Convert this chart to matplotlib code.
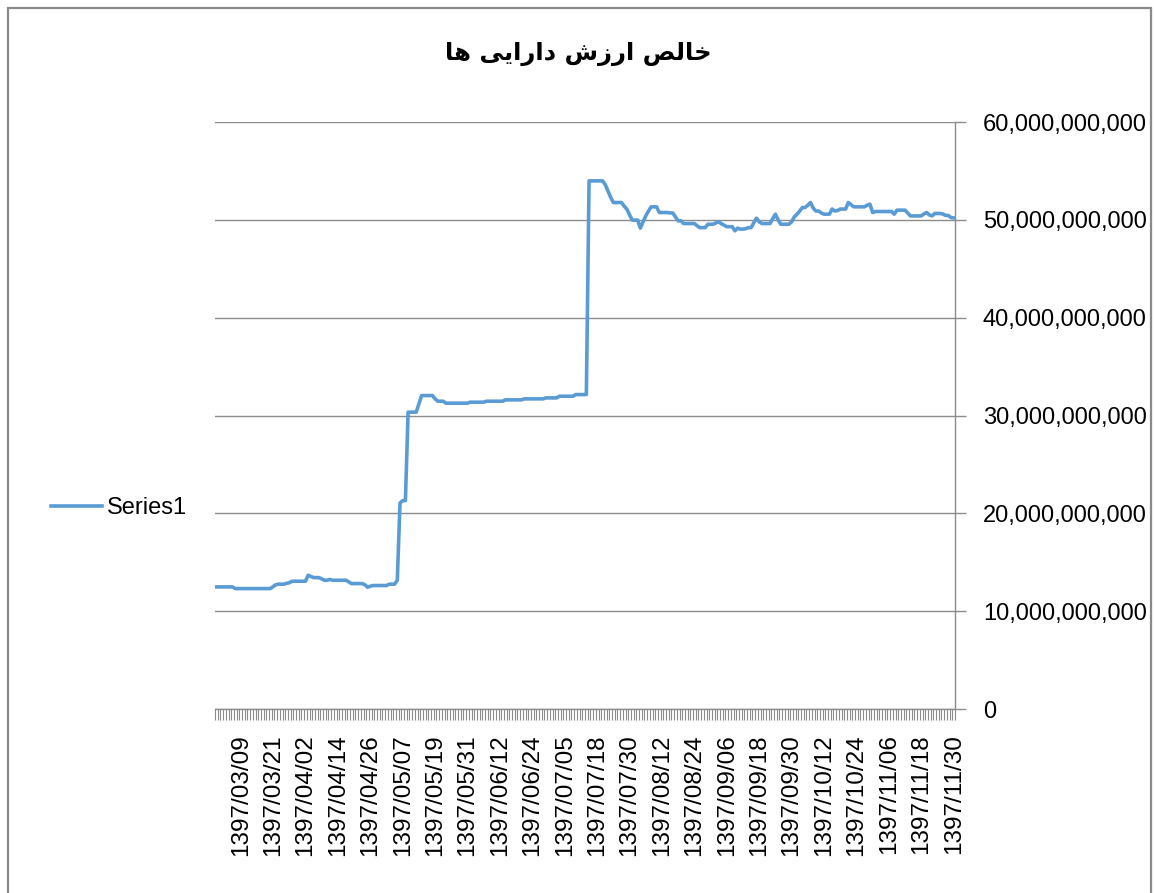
import numpy as np
import matplotlib
matplotlib.use('Agg')
import matplotlib.pyplot as plt
from matplotlib.ticker import FuncFormatter, FixedLocator
from matplotlib.patches import Rectangle

# net asset value, in billions of rials, one point per trading day
nav_billions = [
    12.48, 12.48, 12.48, 12.48, 12.48, 12.48, 12.48, 12.31, 12.31, 12.31,
    12.31, 12.31, 12.31, 12.31, 12.31, 12.31, 12.31, 12.31, 12.31, 12.31,
    12.31, 12.5, 12.7, 12.76, 12.76, 12.76, 12.85, 12.9, 13.06, 13.06,
    13.06, 13.06, 13.06, 13.06, 13.67, 13.55, 13.43, 13.43, 13.43, 13.3,
    13.16, 13.16, 13.25, 13.16, 13.16, 13.16, 13.16, 13.16, 13.16, 13.0,
    12.82, 12.82, 12.82, 12.82, 12.82, 12.7, 12.45, 12.55, 12.62, 12.62,
    12.62, 12.62, 12.62, 12.62, 12.76, 12.76, 12.76, 13.16, 21.05, 21.3,
    21.3, 30.34, 30.34, 30.34, 30.34, 31.2, 32.04, 32.04, 32.04, 32.04,
    32.04, 31.7, 31.46, 31.46, 31.46, 31.26, 31.26, 31.26, 31.26, 31.26,
    31.26, 31.26, 31.26, 31.26, 31.36, 31.36, 31.36, 31.36, 31.36, 31.36,
    31.46, 31.46, 31.46, 31.46, 31.46, 31.46, 31.46, 31.6, 31.6, 31.6,
    31.6, 31.6, 31.6, 31.6, 31.7, 31.7, 31.7, 31.7, 31.7, 31.7,
    31.7, 31.7, 31.8, 31.8, 31.8, 31.8, 31.8, 31.97, 31.97, 31.97,
    31.97, 31.97, 31.97, 32.14, 32.14, 32.14, 32.14, 32.14, 53.98, 53.98,
    53.98, 53.98, 53.98, 53.98, 53.6, 52.96, 52.3, 51.77, 51.77, 51.77,
    51.77, 51.4, 51.09, 50.5, 49.97, 49.97, 49.97, 49.15, 49.8, 50.4,
    50.9, 51.33, 51.33, 51.33, 50.75, 50.75, 50.75, 50.75, 50.7, 50.7,
    50.3, 49.9, 49.9, 49.62, 49.62, 49.62, 49.62, 49.62, 49.4, 49.2,
    49.2, 49.2, 49.55, 49.55, 49.55, 49.7, 49.8, 49.6, 49.45, 49.3,
    49.3, 49.3, 48.88, 49.15, 49.05, 49.05, 49.1, 49.2, 49.2, 49.7,
    50.17, 49.8, 49.62, 49.62, 49.62, 49.62, 50.1, 50.58, 50.0, 49.55,
    49.55, 49.55, 49.55, 49.8, 50.3, 50.58, 50.9, 51.26, 51.26, 51.5,
    51.77, 51.2, 50.9, 50.9, 50.7, 50.58, 50.58, 50.58, 51.1, 50.9,
    50.95, 51.1, 51.1, 51.1, 51.77, 51.55, 51.33, 51.33, 51.33, 51.33,
    51.33, 51.5, 51.6, 50.75, 50.85, 50.85, 50.85, 50.85, 50.85, 50.85,
    50.85, 50.58, 50.99, 50.99, 50.99, 50.99, 50.7, 50.4, 50.4, 50.4,
    50.4, 50.4, 50.6, 50.75, 50.5, 50.4, 50.65, 50.65, 50.65, 50.6,
    50.45, 50.45, 50.24, 50.2,
]

# only every 12th day carries a label on the category axis
date_labels = ['1397/03/09', '1397/03/21', '1397/04/02', '1397/04/14',
               '1397/04/26', '1397/05/07', '1397/05/19', '1397/05/31',
               '1397/06/12', '1397/06/24', '1397/07/05', '1397/07/18',
               '1397/07/30', '1397/08/12', '1397/08/24', '1397/09/06',
               '1397/09/18', '1397/09/30', '1397/10/12', '1397/10/24',
               '1397/11/06', '1397/11/18', '1397/11/30']
first_labelled_day = 9
label_step = 12

y_ticks = [0, 10e9, 20e9, 30e9, 40e9, 50e9, 60e9]

# title "خالص ارزش دارایی ها", written as shaped glyphs in visual order
title_text = '\uFE8E\uFEEB \uFBFD\uFBFE\uFE8D\uFEAD\uFE8D\uFEA9 \uFEB5\uFEAF\uFEAD\uFE8D \uFEBA\uFEDF\uFE8E\uFEA7'

line_color = '#5B9BD5'
grid_color = '#8C8C8C'

W, H = 1154, 893
fig = plt.figure(figsize=(W / 100, H / 100), dpi=100)
fig.patch.set_facecolor('white')

# outer chart border
fig.add_artist(Rectangle((7.5 / W, -0.05), (1151 - 7.5) / W, 1.05 - 8.5 / H,
                         transform=fig.transFigure, fill=False,
                         edgecolor='#8A8A8A', linewidth=1.6))

left, right = 215 / W, 955 / W
bottom, top = 1 - 709 / H, 1 - 122 / H
ax = fig.add_axes([left, bottom, right - left, top - bottom])

values = np.array(nav_billions) * 1e9
x = np.arange(len(values))
ax.plot(x, values, color=line_color, linewidth=2.6, label='Series1',
        solid_joinstyle='round')

ax.set_xlim(-0.5, len(values) - 0.5)
ax.set_ylim(0, 60e9)

for s in ['top', 'left']:
    ax.spines[s].set_visible(False)
for s in ['right', 'bottom']:
    ax.spines[s].set_color(grid_color)
    ax.spines[s].set_linewidth(1.0)

ax.yaxis.tick_right()
ax.yaxis.set_major_locator(FixedLocator(y_ticks))
ax.yaxis.set_major_formatter(FuncFormatter(lambda v, p: '{:,.0f}'.format(v)))
ax.grid(axis='y', color=grid_color, linewidth=1.0)
ax.set_axisbelow(True)
ax.tick_params(axis='y', which='major', direction='out', length=8,
               width=1.0, color=grid_color, pad=12, labelsize=17,
               labelfontfamily='Liberation Sans')

label_pos = np.arange(first_labelled_day, len(values), label_step)
ax.set_xticks(label_pos)
ax.set_xticklabels(date_labels, rotation=90, fontsize=17.5,
                   family='Liberation Sans')
ax.set_xticks(np.arange(len(values) + 1) - 0.5, minor=True)
ax.tick_params(axis='x', which='major', length=0, pad=18)
ax.tick_params(axis='x', which='minor', direction='out', length=8,
               width=0.8, color=grid_color)

fig.text(578 / W, 1 - 54 / H, title_text, ha='center', va='center',
         fontsize=17.5, fontweight='bold', family=['DejaVu Sans'])

fig.legend(loc='center left', bbox_to_anchor=(30 / W, 1 - 508 / H),
           frameon=False, handlelength=2.15, handletextpad=0.2,
           prop={'family': 'Liberation Sans', 'size': 17})

fig.savefig('out.png', dpi=100, facecolor='white')
